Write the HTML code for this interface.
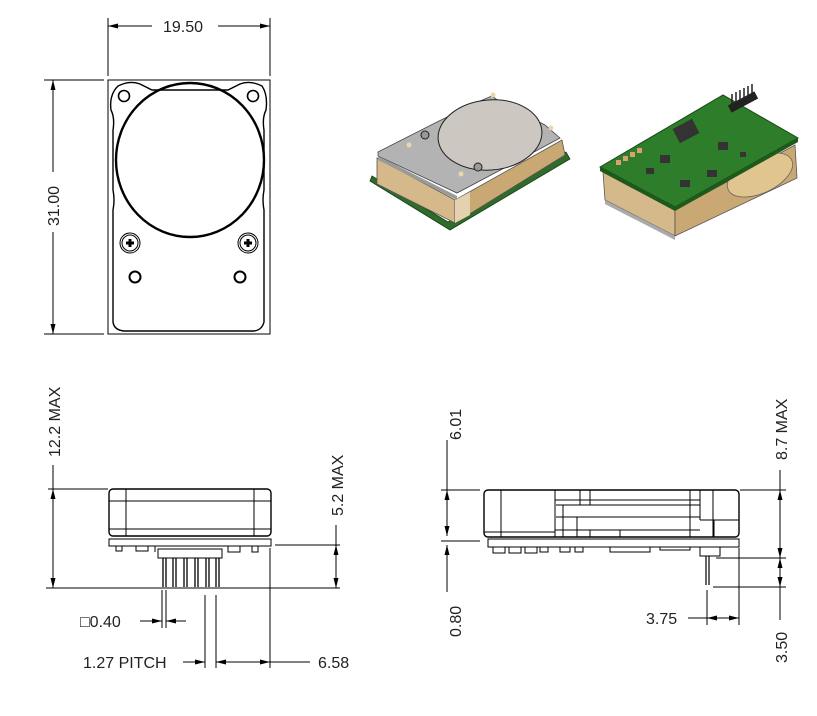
<!DOCTYPE html>
<html><head><meta charset="utf-8"><style>
html,body{margin:0;padding:0;background:#fff;}
svg{display:block;}
text{font-family:"Liberation Sans","DejaVu Sans",sans-serif;font-size:16px;fill:#222;}
</style></head><body>
<svg width="817" height="716" viewBox="0 0 817 716" xmlns="http://www.w3.org/2000/svg">
<defs>
<marker id="a" markerWidth="10" markerHeight="6" refX="10" refY="3" orient="auto-start-reverse" markerUnits="userSpaceOnUse"><path d="M0,0.5 L10,3 L0,5.5z" fill="#000"/></marker>
</defs>
<g stroke="#000" fill="none" stroke-width="1">
<line x1="108" y1="18" x2="108" y2="76"/><line x1="270" y1="18" x2="270" y2="76"/>
<line x1="108" y1="26" x2="152" y2="26" marker-start="url(#a)"/><line x1="218" y1="26" x2="270" y2="26" marker-end="url(#a)"/>
<line x1="44" y1="80" x2="104" y2="80"/><line x1="44" y1="334" x2="104" y2="334"/>
<line x1="53" y1="80" x2="53" y2="172" marker-start="url(#a)"/><line x1="53" y1="232" x2="53" y2="334" marker-end="url(#a)"/>
<rect x="108" y="80" width="162" height="254"/>
<path d="M118,86 Q130,80 140,84 L152,90 L228,90 L240,84 Q250,80 262,86 Q268,95 266,110 Q262,118 264,130 L264,190 Q262,200 264,210 L264,322 Q262,330 254,331 L124,331 Q114,330 113,322 L113,210 Q115,200 113,190 L113,130 Q115,118 111,110 Q109,95 118,86z" stroke-width="1.4"/>
<ellipse cx="190" cy="160" rx="74" ry="77" stroke-width="2.4"/>
<circle cx="124" cy="96" r="5.5" stroke-width="1.6"/><circle cx="253" cy="96" r="5.5" stroke-width="1.6"/>
<circle cx="130" cy="243" r="10"/><circle cx="130" cy="243" r="8"/>
<path d="M126,243 H134 M130,239 V247" stroke-width="3"/>
<circle cx="248" cy="243" r="10"/><circle cx="248" cy="243" r="8"/>
<path d="M244,243 H252 M248,239 V247" stroke-width="3"/>
<circle cx="135" cy="277" r="5.5" stroke-width="2"/><circle cx="240" cy="277" r="5.5" stroke-width="2"/>

<line x1="48" y1="489" x2="108" y2="489"/>
<line x1="46" y1="588" x2="340" y2="588"/>
<line x1="53" y1="465" x2="53" y2="489"/>
<line x1="53" y1="489" x2="53" y2="588" marker-start="url(#a)" marker-end="url(#a)"/>
<rect x="109" y="489" width="162" height="47" rx="4" stroke-width="1.4"/>
<line x1="109" y1="501" x2="271" y2="501"/><line x1="109" y1="529" x2="271" y2="529"/>
<line x1="126" y1="489" x2="126" y2="536"/><line x1="254" y1="489" x2="254" y2="536"/>
<rect x="109" y="539" width="162" height="7"/>
<path d="M116,546 v5 h6 v-5 M136,546 v5 h12 v-5 M155,546 v6 M228,546 v6 h12 v-6 M252,546 v6 h6 v-6"/>
<rect x="158" y="549" width="64" height="9"/>
<g stroke-width="1.3">
<path d="M163,558 V587 M166,558 V587"/><path d="M173,558 V587 M176,558 V587"/><path d="M184,558 V587 M187,558 V587"/><path d="M195,558 V587 M198,558 V587"/><path d="M206,558 V587 M209,558 V587"/><path d="M216,558 V587 M219,558 V587"/>
</g>
<line x1="275" y1="545" x2="340" y2="545"/>
<line x1="336" y1="545" x2="336" y2="588" marker-start="url(#a)" marker-end="url(#a)"/>
<line x1="336" y1="525" x2="336" y2="545"/>
<line x1="162" y1="590" x2="162" y2="628"/><line x1="166" y1="590" x2="166" y2="628"/>
<line x1="140" y1="621" x2="162" y2="621" marker-end="url(#a)"/><line x1="186" y1="621" x2="166" y2="621" marker-end="url(#a)"/>
<line x1="205" y1="595" x2="205" y2="668"/><line x1="216" y1="595" x2="216" y2="668"/>
<line x1="270" y1="548" x2="270" y2="668"/>
<line x1="183" y1="662" x2="205" y2="662" marker-end="url(#a)"/>
<line x1="216" y1="662" x2="270" y2="662" marker-start="url(#a)" marker-end="url(#a)"/>
<line x1="270" y1="662" x2="310" y2="662"/>

<line x1="441" y1="490" x2="480" y2="490"/><line x1="441" y1="541" x2="480" y2="541"/>
<line x1="447" y1="440" x2="447" y2="490"/>
<line x1="447" y1="490" x2="447" y2="536" marker-start="url(#a)" marker-end="url(#a)"/>
<line x1="447" y1="545" x2="447" y2="592" marker-start="url(#a)"/>
<rect x="484" y="490" width="255" height="47" rx="4" stroke-width="1.4"/>
<path d="M501,490 V537 M555,490 V500 M555,500 H700 M555,490 V537 M580,490 V505 M590,490 V505 M690,490 V537 M700,490 V520 M713,490 V537 M556,505 H700 M556,517 H700 M563,505 V537 M577,517 V537 M700,520 H739 M484,532 H555 M555,530 H700 M620,530 V537 M590,530 V537 M714,520 V537"/>
<rect x="488" y="539" width="251" height="8"/>
<path d="M493,547 v6 h12 v-6 M509,547 v6 h12 v-6 M525,547 v6 h12 v-6 M540,547 v5 h8 v-5 M560,547 v5 h10 v-5 M575,547 v5 h8 v-5 M610,547 v5 h40 v-5 M660,547 v3 h30 v-3"/>
<rect x="700" y="547" width="20" height="9"/>
<path d="M706,556 V585 M709,556 V585" stroke-width="1.2"/>
<line x1="740" y1="490" x2="786" y2="490"/>
<line x1="716" y1="558" x2="786" y2="558"/>
<line x1="713" y1="587" x2="786" y2="587"/>
<line x1="780" y1="470" x2="780" y2="490"/>
<line x1="780" y1="490" x2="780" y2="558" marker-start="url(#a)" marker-end="url(#a)"/>
<line x1="780" y1="558" x2="780" y2="587" marker-start="url(#a)" marker-end="url(#a)"/>
<line x1="780" y1="587" x2="780" y2="620"/>
<line x1="707" y1="590" x2="707" y2="625"/><line x1="739" y1="548" x2="739" y2="625"/>
<line x1="688" y1="618" x2="707" y2="618"/>
<line x1="707" y1="618" x2="739" y2="618" marker-start="url(#a)" marker-end="url(#a)"/>
</g>

<polygon points="370,181 450,230 570,159 566,152 448,222 372,176" fill="#2f6b2a" stroke="#1a3d18" stroke-width="0.8"/>
<polygon points="377,158 455,200 455,223 377,184" fill="#d6b98a" stroke="#555" stroke-width="0.8"/>
<polygon points="455,200 562,140 565,155 455,223" fill="#c9a874" stroke="#555" stroke-width="0.8"/>
<polygon points="455,200 470,192 470,215 455,223" fill="#e3d1b0"/>
<polygon points="378,152 437,122 480,101 492,96 500,102 545,125 560,138 508,166 457,193 378,156" fill="#b3b3b3" stroke="#444" stroke-width="0.8"/>
<polygon points="378,156 457,196 457,200 378,160" fill="#9a9a9a"/>
<ellipse cx="490" cy="135" rx="52" ry="35" transform="rotate(-5 490 135)" fill="#ccc7c0" stroke="#222" stroke-width="1"/>
<circle cx="493" cy="95" r="2.5" fill="#e8d8a8"/><circle cx="551" cy="128" r="2.5" fill="#e8d8a8"/>
<circle cx="409" cy="145" r="2.5" fill="#e8d8a8"/><circle cx="461" cy="174" r="2.5" fill="#e8d8a8"/>
<circle cx="425" cy="135" r="4" fill="#999" stroke="#222"/><circle cx="478" cy="167" r="4" fill="#999" stroke="#222"/>

<polygon points="603,172 675,210 675,236 605,200" fill="#d6b98a" stroke="#555" stroke-width="0.8"/>
<polygon points="675,210 795,145 797,178 675,236" fill="#c9a874" stroke="#555" stroke-width="0.8"/>
<ellipse cx="760" cy="175" rx="35" ry="18" transform="rotate(-25 760 175)" fill="#e0c58f" stroke="#666" stroke-width="0.8"/>
<polygon points="605,200 675,236 675,240 605,204" fill="#aaa"/>
<polygon points="600,167 723,95 798,138 675,207" fill="#2e7d2a" stroke="#1a4a18" stroke-width="1"/>
<polygon points="600,167 675,207 675,211 600,171" fill="#1f5a1d"/>
<polygon points="675,207 798,138 798,142 675,211" fill="#1f5a1d"/>
<rect x="675" y="123" width="22" height="16" fill="#333" transform="rotate(-28 686 131)"/>
<g fill="#333">
<rect x="660" y="155" width="10" height="8"/><rect x="680" y="180" width="10" height="7"/><rect x="718" y="142" width="10" height="8"/>
<rect x="707" y="170" width="10" height="7"/><rect x="740" y="152" width="6" height="5"/><rect x="646" y="168" width="8" height="6"/>
</g>
<g fill="#d9a070"><rect x="616" y="160" width="5" height="5"/><rect x="623" y="156" width="5" height="5"/><rect x="630" y="152" width="5" height="5"/><rect x="637" y="148" width="5" height="5"/></g>
<g stroke="#222" stroke-width="1.5">
<path d="M732,104 v-10 M736,102 v-10 M740,100 v-10 M744,98 v-10 M748,96 v-10 M752,94 v-10"/>
</g>
<rect x="728" y="98" width="30" height="8" fill="#222" transform="rotate(-28 743 102)"/>

<text x="163" y="32">19.50</text>
<text transform="translate(59,226) rotate(-90)">31.00</text>
<text transform="translate(60,457) rotate(-90)">12.2 MAX</text>
<text transform="translate(343,516) rotate(-90)">5.2 MAX</text>
<text x="80" y="627">□0.40</text>
<text x="83" y="668">1.27 PITCH</text>
<text x="318" y="668">6.58</text>
<text transform="translate(461,440) rotate(-90)">6.01</text>
<text transform="translate(461,637) rotate(-90)">0.80</text>
<text transform="translate(787,460) rotate(-90)">8.7 MAX</text>
<text transform="translate(787,663) rotate(-90)">3.50</text>
<text x="646" y="624">3.75</text>
</svg>
</body></html>
